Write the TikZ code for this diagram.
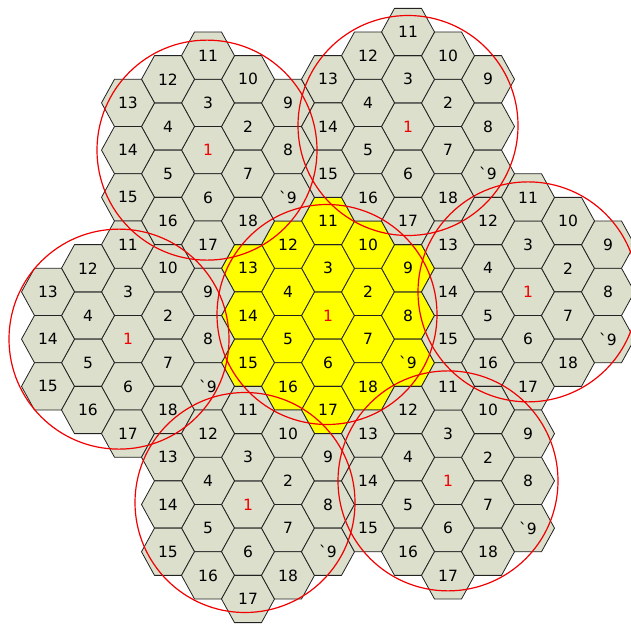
\documentclass[tikz,border=0pt]{standalone}
\usepackage{fontspec}
\setmainfont{DejaVu Sans}
\begin{document}
\begin{tikzpicture}[x=1pt, y=-1pt, font=\fontsize{15.5}{17}\selectfont, line join=round]
  \definecolor{cellGrey}{HTML}{DCDFCC}
  \definecolor{cellYellow}{HTML}{FFFF00}
  \definecolor{cellEdge}{HTML}{222222}
  \definecolor{ringRed}{HTML}{F00000}
  \useasboundingbox (0,0) rectangle (631,623);
  \foreach \name/\ci/\cj/\tone in {
    mid/0/0/cellYellow, nw/-3/-7/cellGrey, ne/2/-8/cellGrey,
    east/5/-1/cellGrey, west/-5/1/cellGrey, sw/-2/8/cellGrey, se/3/7/cellGrey}{
    \foreach \i/\j/\n/\lbl in {
      0/0/1/1, 1/-1/2/2, 0/-2/3/3, -1/-1/4/4, -1/1/5/5, 0/2/6/6, 1/1/7/7,
      2/0/8/8, 2/-2/9/9, 1/-3/10/10, 0/-4/11/11, -1/-3/12/12, -2/-2/13/13,
      -2/0/14/14, -2/2/15/15, -1/3/16/16, 0/4/17/17, 1/3/18/18,
      2/2/19/{\textasciigrave9}}{
      \ifnum\n=1 \def\ink{ringRed}\else\def\ink{black}\fi
      \path[fill=\tone, draw=cellEdge, line width=0.8pt,
        shift={({328+40*(\ci+\i)},{315.5+23.625*(\cj+\j)})}]
        (-26.5,0) -- (-13.5,-23.625) -- (13.5,-23.625) -- (26.5,0)
        -- (13.5,23.625) -- (-13.5,23.625) -- cycle;
      \node[text=\ink] (\name-\n) at ({328+40*(\ci+\i)},{315.5+23.625*(\cj+\j)}) {\lbl};
    }
  }
  \foreach \name/\dx/\dy in {mid/-1/-1, nw/-1/0, ne/0/-1, east/0/0, west/-9/0, sw/-3/-2, se/0/0}
    \draw[ringRed, line width=1.2pt] ([shift={(\dx,\dy)}]\name-1.center) circle[radius=110];
\end{tikzpicture}
\end{document}
